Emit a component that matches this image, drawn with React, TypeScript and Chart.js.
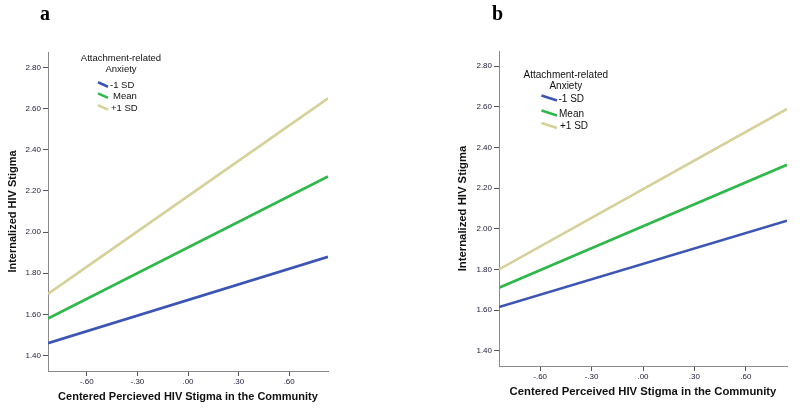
import React, { useEffect, useRef } from 'react';
import { Chart, registerables } from 'chart.js';

Chart.register(...registerables);

// ---------- data ----------
const seriesLabels = ['-1 SD', 'Mean', '+1 SD'];
const seriesColors = ['#3c55b5', '#2eb84a', '#d6d09a'];

const panelAX = [-0.83, 0.83];
const panelAMinus = [1.46, 1.88];
const panelAMean = [1.58, 2.27];
const panelAPlus = [1.7, 2.65];

const panelBX = [-0.84, 0.84];
const panelBMinus = [1.615, 2.04];
const panelBMean = [1.71, 2.315];
const panelBPlus = [1.8, 2.59];

const yTickValues = [1.4, 1.6, 1.8, 2.0, 2.2, 2.4, 2.6, 2.8];
const yTickLabels = ['1.40', '1.60', '1.80', '2.00', '2.20', '2.40', '2.60', '2.80'];
const xTickValues = [-0.6, -0.3, 0, 0.3, 0.6];
const xTickLabels = ['-.60', '-.30', '.00', '.30', '.60'];
const yRange = [1.325, 2.875];

const yTitle = 'Internalized HIV Stigma';
const xTitleA = 'Centered Percieved HIV Stigma in the Community';
const xTitleB = 'Centered Perceived HIV Stigma in the Community';
const legendTitle = ['Attachment-related', 'Anxiety'];

// ---------- legend plugin ----------
const slantLegend = {
  id: 'slantLegend',
  afterDraw(chart: any) {
    const o = chart.options.plugins.slantLegend;
    if (!o) return;
    const ctx = chart.ctx;
    ctx.save();
    ctx.fillStyle = '#111';
    ctx.font = `${o.fontSize}px "Liberation Sans", Arial, sans-serif`;
    ctx.textAlign = 'center';
    ctx.textBaseline = 'middle';
    o.titleYs.forEach((y: number, i: number) => ctx.fillText(legendTitle[i], o.titleX, y));
    ctx.textAlign = 'left';
    seriesLabels.forEach((lab, i) => {
      const y = o.itemYs[i];
      ctx.strokeStyle = seriesColors[i];
      ctx.lineWidth = 2.5;
      ctx.beginPath();
      ctx.moveTo(o.symX0, y - o.symDrop / 2 - 1);
      ctx.lineTo(o.symX1, y + o.symDrop / 2 - 1);
      ctx.stroke();
      ctx.fillText(lab, o.labelXs[i], y);
    });
    ctx.restore();
  },
};

function makeConfig(p: any) {
  const ds = [p.minus, p.mean, p.plus].map((vals: number[], i: number) => ({
    label: seriesLabels[i],
    data: vals.map((v, j) => ({ x: p.xs[j], y: v })),
    borderColor: seriesColors[i],
    backgroundColor: seriesColors[i],
    borderWidth: 2.6,
    pointRadius: 0,
    tension: 0,
    fill: false,
  }));
  const tickFont = { size: 8, family: '"Liberation Sans", Arial, sans-serif' };
  const titleFont = { size: p.titleSize, weight: 'bold' as const, family: '"Liberation Sans", Arial, sans-serif' };
  return {
    type: 'line' as const,
    data: { datasets: ds },
    plugins: [slantLegend],
    options: {
      responsive: false,
      animation: false,
      layout: { padding: p.padding },
      plugins: {
        legend: { display: false },
        tooltip: { enabled: false },
        slantLegend: p.legend,
      },
      scales: {
        x: {
          type: 'linear',
          min: p.xs[0],
          max: p.xs[1],
          afterBuildTicks: (s: any) => { s.ticks = xTickValues.map((v) => ({ value: v })); },
          afterFit: (s: any) => { s.height = p.xAxisHeight; },
          ticks: {
            callback: (_v: any, i: number) => xTickLabels[i],
            font: tickFont,
            color: '#1c1c3a',
            padding: 1,
            maxRotation: 0,
          },
          grid: { drawOnChartArea: false, drawTicks: true, tickLength: 5, color: '#555' },
          border: { display: true, color: '#8a8a8a', width: 1 },
          title: { display: true, text: p.xTitle, font: titleFont, color: '#111', padding: { top: 0, bottom: p.xTitlePad } },
        },
        y: {
          type: 'linear',
          min: yRange[0],
          max: yRange[1],
          afterBuildTicks: (s: any) => { s.ticks = yTickValues.map((v) => ({ value: v })); },
          afterFit: (s: any) => { s.width = p.yAxisWidth; },
          ticks: {
            callback: (_v: any, i: number) => yTickLabels[i],
            font: tickFont,
            color: '#1c1c3a',
            padding: 2,
          },
          grid: { drawOnChartArea: false, drawTicks: true, tickLength: 5, color: '#555' },
          border: { display: true, color: '#8a8a8a', width: 1 },
          title: { display: true, text: yTitle, font: titleFont, color: '#111', padding: { top: 6, bottom: 0 } },
        },
      },
    },
  };
}

function Panel(props: { cfg: any; left: number; letter: string; letterX: number }) {
  const ref = useRef<HTMLCanvasElement | null>(null);
  useEffect(() => {
    if (!ref.current) return;
    const chart = new Chart(ref.current, makeConfig(props.cfg) as any);
    return () => chart.destroy();
  }, []);
  return (
    <div style={{ position: 'absolute', left: props.left, top: 0, width: 400, height: 411 }}>
      <canvas ref={ref} width={400} height={411} style={{ display: 'block' }} />
      <div
        style={{
          position: 'absolute',
          left: props.letterX,
          top: 2,
          font: 'bold 20px "Liberation Serif", "Times New Roman", serif',
          color: '#000',
        }}
      >
        {props.letter}
      </div>
    </div>
  );
}

const cfgA = {
  xs: panelAX,
  minus: panelAMinus,
  mean: panelAMean,
  plus: panelAPlus,
  xTitle: xTitleA,
  titleSize: 11,
  padding: { left: 0, right: 72, top: 52, bottom: 0 },
  yAxisWidth: 48,
  xAxisHeight: 40,
  xTitlePad: 7,
  legend: {
    fontSize: 9.5,
    titleX: 121,
    titleYs: [58.3, 69],
    itemYs: [85.5, 96.7, 108.3],
    symX0: 98,
    symX1: 108,
    symDrop: 4.5,
    labelXs: [110, 113, 111],
  },
};

const cfgB = {
  xs: panelBX,
  minus: panelBMinus,
  mean: panelBMean,
  plus: panelBPlus,
  xTitle: xTitleB,
  titleSize: 11.3,
  padding: { left: 50, right: 13, top: 51, bottom: 0 },
  yAxisWidth: 49,
  xAxisHeight: 45,
  xTitlePad: 12,
  legend: {
    fontSize: 10,
    titleX: 165.8,
    titleYs: [75, 86.7],
    itemYs: [99, 114, 126.5],
    symX0: 141.5,
    symX1: 157,
    symDrop: 5,
    labelXs: [158.5, 159, 160],
  },
};

export default function App() {
  return (
    <div style={{ position: 'fixed', left: 0, top: 0, width: 800, height: 411, background: '#fff', overflow: 'hidden' }}>
      <Panel cfg={cfgA} left={0} letter="a" letterX={40} />
      <Panel cfg={cfgB} left={400} letter="b" letterX={92} />
    </div>
  );
}
